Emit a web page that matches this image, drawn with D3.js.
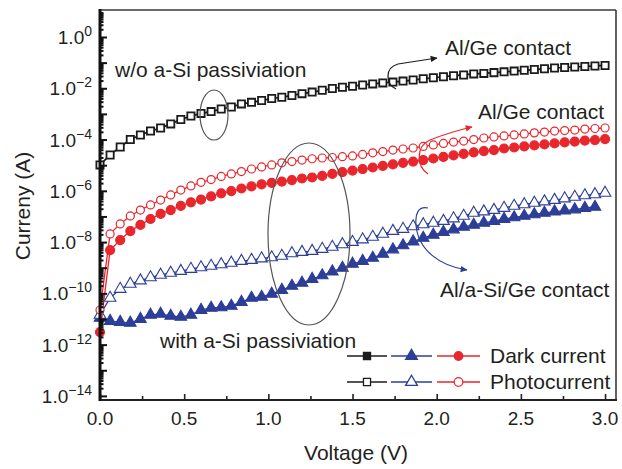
<!DOCTYPE html>
<html><head><meta charset="utf-8">
<script src="https://cdn.jsdelivr.net/npm/d3@7"></script>
<style>
html,body{margin:0;padding:0;background:#fff;}
svg{display:block;font-family:"Liberation Sans",Arial,Helvetica,sans-serif;}
</style></head>
<body>
<svg id="chart" width="622" height="469"></svg>
<script>
// ---------------- DATA ----------------
// Voltage (V) sampling points
const voltage = [0.00,0.06,0.12,0.18,0.24,0.30,0.36,0.42,0.48,0.54,0.60,0.66,0.72,0.78,0.84,0.90,0.96,1.02,1.08,1.14,1.20,1.26,1.32,1.38,1.44,1.50,1.56,1.62,1.68,1.74,1.80,1.86,1.92,1.98,2.04,2.10,2.16,2.22,2.28,2.34,2.40,2.46,2.52,2.58,2.64,2.70,2.76,2.82,2.88,2.94,3.00];

// log10 of current (A)
// w/o a-Si passivation, Al/Ge contact, photocurrent (black open squares)
const blackPhotoLog = [-4.99,-4.60,-4.29,-4.00,-3.82,-3.67,-3.55,-3.39,-3.22,-3.08,-2.98,-2.91,-2.81,-2.73,-2.61,-2.55,-2.48,-2.40,-2.35,-2.28,-2.21,-2.15,-2.08,-2.01,-1.96,-1.92,-1.87,-1.83,-1.79,-1.76,-1.72,-1.68,-1.63,-1.59,-1.55,-1.51,-1.48,-1.44,-1.42,-1.39,-1.36,-1.33,-1.30,-1.27,-1.24,-1.21,-1.19,-1.17,-1.15,-1.13,-1.11];
// with a-Si passivation, Al/Ge contact (red)
const redPhotoLog = [-10.65,-7.68,-7.29,-6.98,-6.75,-6.55,-6.36,-6.16,-5.97,-5.81,-5.67,-5.56,-5.44,-5.34,-5.25,-5.15,-5.07,-4.99,-4.91,-4.86,-4.80,-4.75,-4.72,-4.70,-4.67,-4.64,-4.58,-4.52,-4.47,-4.41,-4.37,-4.33,-4.27,-4.21,-4.15,-4.10,-4.06,-4.00,-3.94,-3.90,-3.86,-3.82,-3.78,-3.74,-3.71,-3.67,-3.65,-3.63,-3.59,-3.57,-3.55];
const redDarkLog = [-11.51,-8.31,-7.92,-7.57,-7.33,-7.10,-6.90,-6.75,-6.59,-6.45,-6.34,-6.22,-6.10,-6.01,-5.91,-5.83,-5.75,-5.69,-5.64,-5.58,-5.52,-5.48,-5.42,-5.34,-5.27,-5.21,-5.15,-5.09,-5.03,-4.97,-4.91,-4.86,-4.80,-4.74,-4.68,-4.62,-4.56,-4.50,-4.45,-4.41,-4.35,-4.31,-4.27,-4.23,-4.19,-4.15,-4.11,-4.08,-4.04,-4.02,-3.98];
// with a-Si passivation, Al/a-Si/Ge contact (blue)
const bluePhotoLog = [-10.84,-10.18,-9.83,-9.63,-9.50,-9.38,-9.28,-9.20,-9.13,-9.05,-8.99,-8.93,-8.87,-8.81,-8.74,-8.70,-8.64,-8.60,-8.54,-8.44,-8.39,-8.35,-8.27,-8.19,-8.09,-8.00,-7.90,-7.80,-7.68,-7.57,-7.49,-7.39,-7.31,-7.25,-7.18,-7.08,-6.98,-6.86,-6.81,-6.75,-6.67,-6.59,-6.53,-6.47,-6.42,-6.36,-6.30,-6.24,-6.18,-6.14,-6.08];
const blueDarkLog = [-10.96,-11.08,-11.12,-11.15,-11.00,-10.84,-10.80,-10.88,-10.92,-10.84,-10.65,-10.57,-10.55,-10.49,-10.34,-10.18,-10.14,-10.02,-9.87,-9.71,-9.59,-9.44,-9.30,-9.15,-9.01,-8.85,-8.74,-8.62,-8.46,-8.29,-8.13,-7.98,-7.84,-7.72,-7.61,-7.51,-7.41,-7.33,-7.25,-7.18,-7.10,-7.04,-6.98,-6.92,-6.86,-6.81,-6.77,-6.73,-6.67,-6.63];

const xTickValues = [0,0.5,1.0,1.5,2.0,2.5,3.0];
const xTickLabels = ["0.0","0.5","1.0","1.5","2.0","2.5","3.0"];
const xMinorTicks = [0.25,0.75,1.25,1.75,2.25,2.75];
const yLabelExponents = [0,-2,-4,-6,-8,-10,-12,-14];
const yDecades = [-14,-13,-12,-11,-10,-9,-8,-7,-6,-5,-4,-3,-2,-1,0];
const legendLabels = ["Dark current","Photocurrent"];

// ---------------- LAYOUT ----------------
const W = 622, H = 469;
const L = 100, R = 616, T = 10, B = 400;
const C_BLACK = "#1b1b1b", C_RED = "#e8262b", C_BLUE = "#2c3e98", C_TEXT = "#231f20";

const svg = d3.select("#chart");
const x = d3.scaleLinear().domain([0, 3.065]).range([L, R]);
const y = d3.scaleLog().domain([Math.pow(10,-14.16), Math.pow(10,1.053)]).range([B, T]);

// arrowhead markers
const defs = svg.append("defs");
[["arrB",C_BLACK],["arrR",C_RED],["arrU",C_BLUE]].forEach(([id,c])=>{
  defs.append("marker").attr("id",id).attr("viewBox","0 0 10 10").attr("refX",9).attr("refY",5)
    .attr("markerWidth",9).attr("markerHeight",7).attr("markerUnits","userSpaceOnUse").attr("orient","auto")
    .append("path").attr("d","M0,0.5 L10,5 L0,9.5 Z").attr("fill",c);
});

// frame (top/right)
svg.append("line").attr("x1",L).attr("x2",R).attr("y1",T).attr("y2",T).attr("stroke","#3a3a3a").attr("stroke-width",1.6);
svg.append("line").attr("x1",R).attr("x2",R).attr("y1",T).attr("y2",B).attr("stroke","#3a3a3a").attr("stroke-width",1.6);

// ---------------- SERIES ----------------
function seriesData(logs){ return logs.map((v,i)=>({v:voltage[i], i:Math.pow(10,v)})); }
const line = d3.line().x(d=>x(d.v)).y(d=>y(d.i));

function drawSeries(logs, color, marker, filled, lw){
  const data = seriesData(logs);
  const g = svg.append("g");
  g.append("path").attr("d", line(data)).attr("fill","none").attr("stroke",color).attr("stroke-width",lw);
  const fill = filled ? color : "#fff";
  if (marker === "circle") {
    g.selectAll("circle").data(data).join("circle")
      .attr("cx",d=>x(d.v)).attr("cy",d=>y(d.i)).attr("r", filled?4.5:4.0)
      .attr("fill",fill).attr("stroke",color).attr("stroke-width",1.2);
  } else {
    const sym = marker === "square" ? d3.symbol(d3.symbolSquare, 52) : d3.symbol(d3.symbolTriangle, 58);
    g.selectAll("path.m").data(data).join("path").attr("class","m")
      .attr("transform",d=>`translate(${x(d.v)},${y(d.i)})`).attr("d",sym)
      .attr("fill",fill).attr("stroke",color).attr("stroke-width", marker==="square"?1.8:1.1);
  }
}
drawSeries(blueDarkLog, C_BLUE, "triangle", true, 1.3);
drawSeries(bluePhotoLog, C_BLUE, "triangle", false, 1.3);
drawSeries(redDarkLog, C_RED, "circle", true, 1.3);
drawSeries(redPhotoLog, C_RED, "circle", false, 1.3);
drawSeries(blackPhotoLog, C_BLACK, "square", false, 1.7);

// ---------------- AXES ----------------
const yMinor = [];
yDecades.forEach(k=>{ for(let m=2;m<=9;m++){ const v=m*Math.pow(10,k); if(v<=y.domain()[1] && v>=y.domain()[0]) yMinor.push(v);} });
const gyMinor = svg.append("g").attr("transform",`translate(${L},0)`)
  .call(d3.axisLeft(y).tickValues(yMinor).tickSize(-3.5).tickFormat(""));
const gy = svg.append("g").attr("transform",`translate(${L},0)`)
  .call(d3.axisLeft(y).tickValues(yDecades.map(k=>Math.pow(10,k))).tickSize(-7).tickFormat(""));
[gyMinor, gy].forEach(g=>{ g.selectAll(".tick line").attr("stroke","#111").attr("stroke-width",2); g.select(".domain").remove(); });

const gx = svg.append("g").attr("transform",`translate(0,${B})`)
  .call(d3.axisBottom(x).tickValues(xTickValues).tickSize(-6).tickFormat(""));
const gxMinor = svg.append("g").attr("transform",`translate(0,${B})`)
  .call(d3.axisBottom(x).tickValues(xMinorTicks).tickSize(-4).tickFormat(""));
[gx, gxMinor].forEach(g=>{ g.selectAll(".tick line").attr("stroke","#222").attr("stroke-width",1.6); g.select(".domain").remove(); });

svg.append("line").attr("x1",L).attr("x2",R+1).attr("y1",B).attr("y2",B).attr("stroke","#222").attr("stroke-width",2);
svg.append("line").attr("x1",L).attr("x2",L).attr("y1",T-1).attr("y2",B+1).attr("stroke","#111").attr("stroke-width",3);

// x labels
svg.append("g").selectAll("text").data(xTickValues).join("text")
  .attr("x",d=>x(d)).attr("y",B+25).attr("text-anchor","middle")
  .attr("font-size",19).attr("fill",C_TEXT).text((d,i)=>xTickLabels[i]);

// y labels with superscripts
const yl = svg.append("g").selectAll("text").data(yLabelExponents).join("text")
  .attr("x",92).attr("y",d=>y(Math.pow(10,d))+7).attr("text-anchor","end")
  .attr("font-size",19).attr("fill",C_TEXT);
yl.append("tspan").text("1.0");
yl.append("tspan").attr("dy",-8).attr("font-size",14).text(d=> d===0 ? "0" : "\u2212"+(-d));

// axis titles
svg.append("text").attr("x",356).attr("y",460).attr("text-anchor","middle")
  .attr("font-size",21).attr("fill",C_TEXT).text("Voltage (V)");
svg.append("text").attr("transform","translate(30,206) rotate(-90)").attr("text-anchor","middle")
  .attr("font-size",21).attr("fill",C_TEXT).text("Curreny (A)");

// ---------------- ANNOTATIONS ----------------
const ann = svg.append("g").attr("fill",C_TEXT).attr("font-size",21);
ann.append("text").attr("x",115).attr("y",77).text("w/o a-Si passiviation");
ann.append("text").attr("x",445).attr("y",55).text("Al/Ge contact");
ann.append("text").attr("x",478).attr("y",119).text("Al/Ge contact");
ann.append("text").attr("x",440).attr("y",297).text("Al/a-Si/Ge contact");
ann.append("text").attr("x",160).attr("y",348).text("with a-Si passiviation");

svg.append("ellipse").attr("cx",214).attr("cy",115).attr("rx",14).attr("ry",25)
  .attr("fill","none").attr("stroke","#555").attr("stroke-width",1.2);
svg.append("ellipse").attr("cx",309).attr("cy",234).attr("rx",41).attr("ry",91)
  .attr("fill","none").attr("stroke","#555").attr("stroke-width",1.2);

svg.append("path").attr("d","M396,89 C386,84 384,68 398,64 L437,58")
  .attr("fill","none").attr("stroke",C_BLACK).attr("stroke-width",1.2).attr("marker-end","url(#arrB)");
svg.append("path").attr("d","M428,174 C416,166 416,146 430,140 Q450,132 472,127")
  .attr("fill","none").attr("stroke",C_RED).attr("stroke-width",1.2).attr("marker-end","url(#arrR)");
svg.append("path").attr("d","M428,208 C418,206 415,214 416,225 C418,250 440,266 467,270")
  .attr("fill","none").attr("stroke",C_BLUE).attr("stroke-width",1.2).attr("marker-end","url(#arrU)");

// ---------------- LEGEND ----------------
const legRows = [{y:356, filled:true},{y:382, filled:false}];
const legCols = [
  {x0:347,x1:387,color:C_BLACK,marker:"square"},
  {x0:391,x1:432,color:C_BLUE,marker:"triangle"},
  {x0:437,x1:480,color:C_RED,marker:"circle"}];
const lg = svg.append("g");
legRows.forEach((row,ri)=>{
  legCols.forEach(c=>{
    lg.append("line").attr("x1",c.x0).attr("x2",c.x1).attr("y1",row.y).attr("y2",row.y)
      .attr("stroke",c.color).attr("stroke-width",1.4);
    const cx=(c.x0+c.x1)/2, fill=row.filled?c.color:"#fff";
    if(c.marker==="circle"){
      lg.append("circle").attr("cx",cx).attr("cy",row.y).attr("r",4.3).attr("fill",fill).attr("stroke",c.color).attr("stroke-width",1.2);
    } else {
      const sym = c.marker==="square"? d3.symbol(d3.symbolSquare,50) : d3.symbol(d3.symbolTriangle,60);
      lg.append("path").attr("transform",`translate(${cx},${row.y})`).attr("d",sym)
        .attr("fill",fill).attr("stroke",c.color).attr("stroke-width",1.3);
    }
  });
  lg.append("text").attr("x",490).attr("y",row.y+7).attr("font-size",21).attr("fill",C_TEXT).text(legendLabels[ri]);
});
</script>
</body></html>
